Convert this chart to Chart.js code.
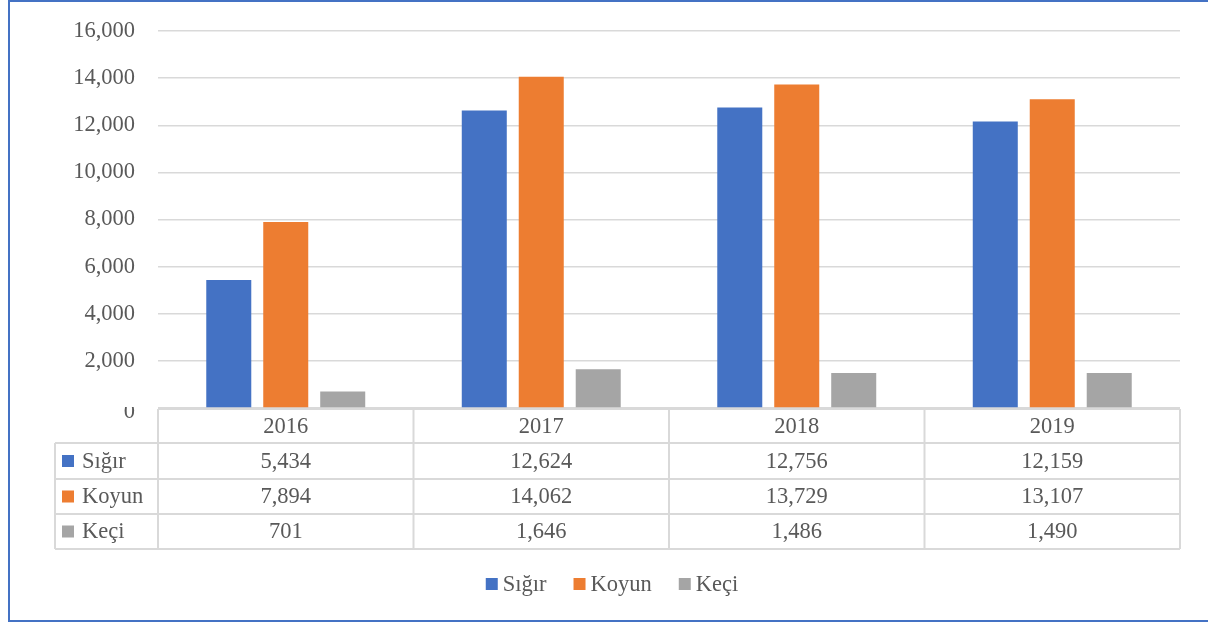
<!DOCTYPE html>
<html>
<head>
<meta charset="utf-8">
<script src="https://cdn.jsdelivr.net/npm/chart.js@4.4.1/dist/chart.umd.min.js"></script>
<style>
  html, body { margin: 0; padding: 0; background: #ffffff; }
  #wrap { width: 1208px; height: 622px; position: relative; }
</style>
</head>
<body>
<div id="wrap"><canvas id="c" width="1208" height="622"></canvas></div>
<script>
// ---- data ----
const years = ['2016', '2017', '2018', '2019'];
const seriesNames = ['Sığır', 'Koyun', 'Keçi'];
const sigir = [5434, 12624, 12756, 12159];
const koyun = [7894, 14062, 13729, 13107];
const keci = [701, 1646, 1486, 1490];
const yTicks = [0, 2000, 4000, 6000, 8000, 10000, 12000, 14000, 16000];

const colors = ['#4472C4', '#ED7D31', '#A5A5A5'];
const textColor = '#595959';
const gridColor = '#D9D9D9';
const fontFamily = '"Liberation Serif", serif';
const fontSize = 22.5;
const fontStr = fontSize + 'px ' + fontFamily;

const fmt = v => v.toLocaleString('en-US');

const tablePlugin = {
  id: 'tablePlugin',
  afterDraw(chart) {
    const ctx = chart.ctx;
    const ca = chart.chartArea;
    const n = years.length;
    const colW = (ca.right - ca.left) / n;
    const rowY = [ca.bottom + 1, 443, 479, 514, 549];
    const legendLeft = 55;
    ctx.save();

    // data table grid
    ctx.strokeStyle = gridColor;
    ctx.lineWidth = 2;
    ctx.beginPath();
    ctx.moveTo(ca.left, rowY[0]); ctx.lineTo(ca.right, rowY[0]);
    for (let r = 1; r < rowY.length; r++) {
      ctx.moveTo(legendLeft, rowY[r]); ctx.lineTo(ca.right, rowY[r]);
    }
    for (let i = 0; i <= n; i++) {
      const x = ca.left + i * colW;
      ctx.moveTo(x, rowY[0]); ctx.lineTo(x, rowY[rowY.length - 1]);
    }
    ctx.moveTo(legendLeft, rowY[1]); ctx.lineTo(legendLeft, rowY[rowY.length - 1]);
    ctx.stroke();

    // data table text
    ctx.fillStyle = textColor;
    ctx.font = fontStr;
    ctx.textBaseline = 'middle';
    ctx.textAlign = 'center';
    const rows = [sigir, koyun, keci];
    for (let i = 0; i < n; i++) {
      const cx = ca.left + (i + 0.5) * colW;
      ctx.fillText(years[i], cx, (rowY[0] + rowY[1]) / 2 + 1);
      for (let r = 0; r < rows.length; r++) {
        ctx.fillText(fmt(rows[r][i]), cx, (rowY[r + 1] + rowY[r + 2]) / 2 + 1);
      }
    }
    ctx.textAlign = 'left';
    for (let r = 0; r < seriesNames.length; r++) {
      const cy = (rowY[r + 1] + rowY[r + 2]) / 2;
      ctx.fillStyle = colors[r];
      ctx.fillRect(62, cy - 6, 12, 12);
      ctx.fillStyle = textColor;
      ctx.fillText(seriesNames[r], 82, cy + 1);
    }

    // "0" axis label, partly hidden as in the original
    ctx.save();
    ctx.beginPath();
    ctx.rect(0, 407, 157, 30);
    ctx.clip();
    ctx.textAlign = 'right';
    ctx.fillStyle = textColor;
    ctx.fillText('0', 135, 412);
    ctx.restore();

    // bottom legend
    const gap = 27, box = 12, boxGap = 5;
    const widths = seriesNames.map(s => ctx.measureText(s).width);
    let total = 0;
    widths.forEach((w, i) => { total += box + boxGap + w + (i < widths.length - 1 ? gap : 0); });
    let x = 612 - total / 2;
    const ly = 584;
    for (let i = 0; i < seriesNames.length; i++) {
      ctx.fillStyle = colors[i];
      ctx.fillRect(x, ly - 6, box, box);
      x += box + boxGap;
      ctx.fillStyle = textColor;
      ctx.fillText(seriesNames[i], x, ly + 1);
      x += widths[i] + gap;
    }

    // outer frame
    ctx.strokeStyle = '#4472C4';
    ctx.lineWidth = 2;
    ctx.beginPath();
    ctx.moveTo(1208, 1); ctx.lineTo(9, 1); ctx.lineTo(9, 621); ctx.lineTo(1208, 621);
    ctx.stroke();
    ctx.restore();
  }
};

new Chart(document.getElementById('c'), {
  type: 'bar',
  data: {
    labels: years,
    datasets: [
      { label: seriesNames[0], data: sigir, backgroundColor: colors[0] },
      { label: seriesNames[1], data: koyun, backgroundColor: colors[1] },
      { label: seriesNames[2], data: keci, backgroundColor: colors[2] }
    ]
  },
  options: {
    responsive: false,
    animation: false,
    layout: { padding: { left: 0, right: 28, top: 31, bottom: 214 } },
    datasets: { bar: { categoryPercentage: 0.669, barPercentage: 0.79 } },
    plugins: { legend: { display: false }, tooltip: { enabled: false } },
    scales: {
      x: { display: false },
      y: {
        min: yTicks[0],
        max: yTicks[yTicks.length - 1],
        afterBuildTicks(scale) { scale.ticks = yTicks.map(v => ({ value: v })); },
        afterFit(scale) { scale.width = 158; },
        border: { display: false },
        grid: { color: gridColor, lineWidth: 1.5, drawTicks: false },
        ticks: {
          padding: 23,
          color: textColor,
          font: { family: fontFamily, size: fontSize, lineHeight: 0.5 },
          callback: v => (v === 0 ? '' : fmt(v))
        }
      }
    }
  },
  plugins: [tablePlugin]
});
</script>
</body>
</html>
